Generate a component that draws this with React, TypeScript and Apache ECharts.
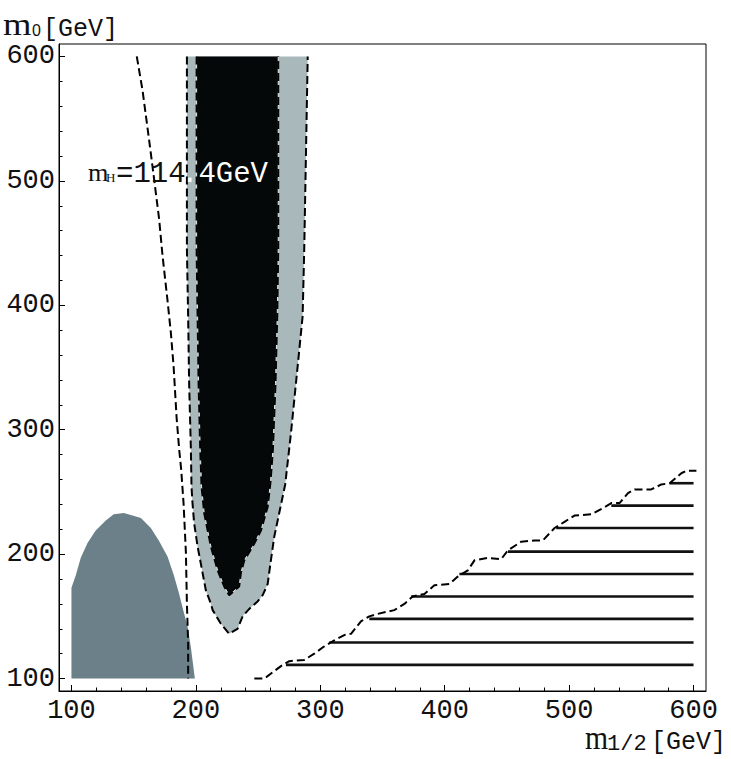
import React, { useEffect, useRef } from "react";
import * as echarts from "echarts";

// ---- data (m_{1/2} [GeV], m_0 [GeV]) ----
const xLabelValues = [100, 200, 300, 400, 500, 600];
const yLabelValues = [100, 200, 300, 400, 500, 600];
const minorTickValues = [
  100, 120, 140, 160, 180, 200, 220, 240, 260, 280, 300, 320, 340, 360, 380,
  400, 420, 440, 460, 480, 500, 520, 540, 560, 580, 600,
];

// excluded region (bottom-left, slate)
const slateX = [100, 100, 103.5, 107.5, 112.9, 119.5, 127.6, 134.0, 142.1, 149.1, 155.8, 163.8, 170.2, 177.2, 182.3, 186.3, 190.3, 193.3, 196.0, 199.2];
const slateY = [100, 173, 183, 197, 209, 219, 227, 232, 233, 231, 229, 221, 211, 198, 183, 169, 153, 142, 125, 100];

// outer allowed band (light grey)
const bandX = [192.8, 192.8, 193.8, 194.6, 196.0, 196.5, 197.3, 198.6, 201.4, 205.0, 208.0, 212.1, 213.5, 220.1, 226.8, 233.5, 237.6, 242.9, 249.6, 253.7, 257.7, 260.3, 263.0, 267.0, 271.8, 276.4, 280.4, 283.1, 285.8, 287.1, 289.9];
const bandY = [600, 445, 391, 337, 284, 254, 241, 225, 206, 187, 171, 160, 155, 144, 136, 140, 150, 156, 162, 167, 176, 195, 214, 233, 256, 297, 337, 364, 391, 445, 600];

// inner allowed core (black)
const coreX = [200.6, 200.6, 201.4, 202.2, 203.5, 204.6, 206.7, 212.1, 217.5, 222.8, 226.8, 234.8, 236.2, 238.9, 245.6, 252.3, 257.7, 260.0, 261.9, 264.0, 265.4, 266.2, 266.2];
const coreY = [600, 445, 391, 337, 284, 254, 233, 206, 187, 174, 167, 174, 185, 195, 206, 219, 238, 258, 284, 337, 391, 445, 600];

// m_H = 114.4 GeV contour
const mhX = [152.5, 157.1, 162.4, 166.5, 170.5, 173.2, 177.2, 179.9, 182.1, 184.5, 186.6, 188.2, 190.1, 192.0, 192.8, 193.8, 193.8];
const mhY = [600, 573, 533, 501, 469, 440, 404, 378, 351, 310, 284, 268, 241, 201, 160, 128, 100];

// staircase boundary (bottom right)
const stairX = [247, 255, 268.4, 275.1, 287.1, 295.2, 301.9, 310, 319.3, 324.7, 332.7, 339.4, 346.2, 359.5, 367.6, 374.3, 383.7, 391.7, 403.8, 410.5, 418.6, 423.9, 434.7, 445.4, 450.8, 461.5, 472.2, 478.9, 488.3, 496.3, 504.3, 517.8, 527.2, 533.9, 540.5, 547.3, 552.6, 566, 574.1, 580.8, 590.2, 594.2, 602.3];
const stairY = [100, 100, 110, 114, 115, 120, 125, 130, 135, 136, 146, 150, 152, 155, 160, 166, 168, 175, 176, 182, 187, 195, 197, 196, 203, 210, 211, 211, 221, 226, 231, 232, 237, 241, 241, 249, 252, 252, 256, 257, 265, 267, 267];

// hatching lines
const hatchY = [111, 129, 148, 166, 184, 202, 221, 239, 257];
const hatchStart = [272.4, 307.2, 339.4, 373, 411.8, 450.8, 489.6, 533.9, 580.8];
const hatchEnd = 600;

const zip = (xs: number[], ys: number[]) => xs.map((x, i) => [x, ys[i]]);

const MONO = "Liberation Mono";
const SERIF = "Liberation Serif";
const SANS = "Liberation Sans";

function polygonSeries(pts: number[][], fill: string) {
  return {
    type: "custom",
    coordinateSystem: "cartesian2d",
    xAxisIndex: 0,
    yAxisIndex: 0,
    data: pts,
    encode: { x: 0, y: 1 },
    silent: true,
    clip: true,
    renderItem: (params: any, api: any) => {
      if (params.dataIndex !== 0) return null;
      return {
        type: "polygon",
        shape: { points: pts.map((p) => api.coord(p)) },
        style: { fill, stroke: "none" },
      };
    },
  };
}

function lineSeries(pts: number[][], color: string, width: number, dash: any) {
  return {
    type: "line",
    xAxisIndex: 0,
    yAxisIndex: 0,
    data: pts,
    symbol: "none",
    silent: true,
    lineStyle: { color, width, type: dash },
    z: 3,
  };
}

function txt(text: string, x: number, y: number, size: number, family: string, fill: string, scaleX = 1) {
  return {
    type: "text",
    x,
    y,
    scaleX,
    z: 100,
    silent: true,
    style: {
      text,
      fontSize: size,
      fontFamily: family,
      fill,
      align: "left",
      verticalAlign: "middle",
    },
  };
}

export default function App() {
  const ref = useRef<HTMLDivElement>(null);

  useEffect(() => {
    if (!ref.current) return;
    const chart = echarts.init(ref.current, undefined, { renderer: "svg" });

    const axisCommon = {
      type: "value",
      min: 90,
      max: 610,
      splitLine: { show: false },
    };

    const option: any = {
      animation: false,
      backgroundColor: "#ffffff",
      grid: {
        left: 59,
        top: 44,
        right: 25,
        bottom: 68,
        show: true,
        borderColor: "#000",
        borderWidth: 1,
        backgroundColor: "transparent",
      },
      xAxis: [
        {
          ...axisCommon,
          position: "bottom",
          axisLine: { show: true, lineStyle: { color: "#000", width: 1 } },
          axisTick: { show: true, inside: true, length: 6, customValues: xLabelValues, lineStyle: { color: "#000", width: 1 } },
          axisLabel: { customValues: xLabelValues, margin: 6, fontFamily: MONO, fontSize: 27, color: "#111" },
        },
        {
          ...axisCommon,
          position: "bottom",
          axisLine: { show: false },
          axisTick: { show: true, inside: true, length: 3.5, customValues: minorTickValues, lineStyle: { color: "#000", width: 1 } },
          axisLabel: { show: false },
        },
      ],
      yAxis: [
        {
          ...axisCommon,
          position: "left",
          axisLine: { show: true, lineStyle: { color: "#000", width: 1 } },
          axisTick: { show: true, inside: true, length: 6, customValues: yLabelValues, lineStyle: { color: "#000", width: 1 } },
          axisLabel: { customValues: yLabelValues, margin: 4, fontFamily: MONO, fontSize: 27, color: "#111" },
        },
        {
          ...axisCommon,
          position: "left",
          axisLine: { show: false },
          axisTick: { show: true, inside: true, length: 3.5, customValues: minorTickValues, lineStyle: { color: "#000", width: 1 } },
          axisLabel: { show: false },
        },
      ],
      series: [
        polygonSeries(zip(slateX, slateY), "#6b8088"),
        polygonSeries(zip(bandX, bandY), "#a8b8bb"),
        polygonSeries(zip(coreX, coreY), "#050808"),
        lineSeries(zip(coreX, coreY), "#dfe6e7", 1, "solid"),
        lineSeries(zip(coreX, coreY), "#000", 2, [8, 4]),
        lineSeries(zip(bandX, bandY), "#000", 2, [8, 4]),
        lineSeries(zip(mhX, mhY), "#000", 2, [8, 4]),
        lineSeries(zip(stairX, stairY), "#000", 2, [8, 4]),
        {
          type: "custom",
          coordinateSystem: "cartesian2d",
          xAxisIndex: 0,
          yAxisIndex: 0,
          silent: true,
          data: hatchY.map((y, i) => [hatchStart[i], y, hatchEnd]),
          encode: { x: [0, 2], y: 1 },
          renderItem: (params: any, api: any) => {
            const a = api.coord([api.value(0), api.value(1)]);
            const b = api.coord([api.value(2), api.value(1)]);
            return {
              type: "line",
              shape: { x1: a[0], y1: a[1], x2: b[0], y2: b[1] },
              style: { stroke: "#111", lineWidth: 2.6 },
            };
          },
          z: 3,
        },
      ],
      graphic: [
        // y-axis name: m0[GeV]
        txt("m", 3, 24.5, 31, SERIF, "#111", 1.18),
        txt("0", 32, 30, 16, SANS, "#111"),
        txt("[GeV]", 43, 29.8, 25, MONO, "#111"),
        // x-axis name: m1/2[GeV]
        txt("m", 585, 738, 33, SERIF, "#111", 0.9),
        txt("1/2", 607, 744, 22, MONO, "#111"),
        txt("[GeV]", 651, 742.3, 25, MONO, "#111"),
        // annotation
        txt("m", 88, 173, 25, SERIF, "#111", 1.05),
        txt("H", 106, 177, 13, SERIF, "#111"),
        txt("=114", 116, 174, 29, MONO, "#111"),
        txt(".4GeV", 181, 174, 29, MONO, "#ffffff"),
      ],
    };

    chart.setOption(option);
    return () => chart.dispose();
  }, []);

  return (
    <div
      ref={ref}
      style={{ position: "absolute", left: 0, top: 0, width: 731, height: 759, background: "#fff" }}
    />
  );
}
